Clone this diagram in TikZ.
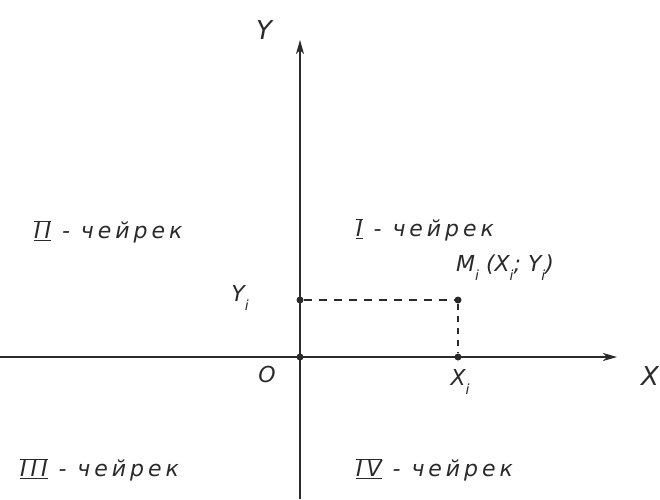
\documentclass[tikz,border=0pt]{standalone}
\usepackage{fontspec}
\setmainfont{DejaVu Sans}
\usetikzlibrary{arrows.meta}
\definecolor{ink}{HTML}{2A2A2A}
\newcommand{\rn}[1]{$\overline{\underline{\mbox{#1}}}$}
\newcommand{\sbi}{\raisebox{-0.4em}{\fontsize{14}{15}\selectfont i}}
\tikzset{
  axis/.style={draw=ink, line width=1.3pt},
  guide/.style={draw=ink, line width=1.6pt, dash pattern=on 8pt off 7pt},
  lbl/.style={text=ink, font=\itshape\fontsize{22}{26}\selectfont, inner sep=0pt},
  quad/.style={text=ink, font=\itshape\fontsize{22}{26}\selectfont\addfontfeatures{LetterSpace=18}, inner sep=0pt},
  dot/.style={circle, fill=ink, inner sep=0pt, minimum size=7pt},
  tip/.style={-{Stealth[length=14pt,width=8pt,inset=4pt]}}
}
\begin{document}
\begin{tikzpicture}[x=1pt,y=-1pt]
\useasboundingbox (0,0) rectangle (660,499);
\coordinate (xl) at (0,357);
\coordinate (xr) at (617,357);
\coordinate (yb) at (300,499);
\coordinate (yt) at (300,40);
\node[dot] (o) at (300,357) {};
\node[dot] (m) at (458,300) {};
\node[dot] (yi) at (300,300) {};
\node[dot] (xi) at (458,357) {};
\draw[axis, tip] (xl) -- (xr);
\draw[axis, tip] (yb) -- (yt);
\draw[guide] (yi) -- (m);
\draw[guide, dash pattern=on 6pt off 6pt, line width=1.2pt] (m) -- (xi);
\node[lbl, font=\itshape\fontsize{26}{30}\selectfont] (ylab) at (264,30) {Y};
\node[lbl, font=\itshape\fontsize{26}{30}\selectfont] (xlab) at (650,376) {X};
\node[lbl] (olab) at (267,374) {O};
\node[lbl] (yilab) at (240,298) {Y\sbi};
\node[lbl] (xilab) at (460,382) {X\sbi};
\node[lbl, anchor=west] (mlab) at (456,268) {M\sbi\ (X\sbi; Y\sbi)};
\node[quad, anchor=west] (q2) at (34,232) {\rn{II} - чейрек};
\node[quad, anchor=west] (q1) at (356,230) {\rn{I} - чейрек};
\node[quad, anchor=west] (q3) at (20,470) {\rn{III} - чейрек};
\node[quad, anchor=west] (q4) at (356,470) {\rn{IV} - чейрек};
\end{tikzpicture}
\end{document}
